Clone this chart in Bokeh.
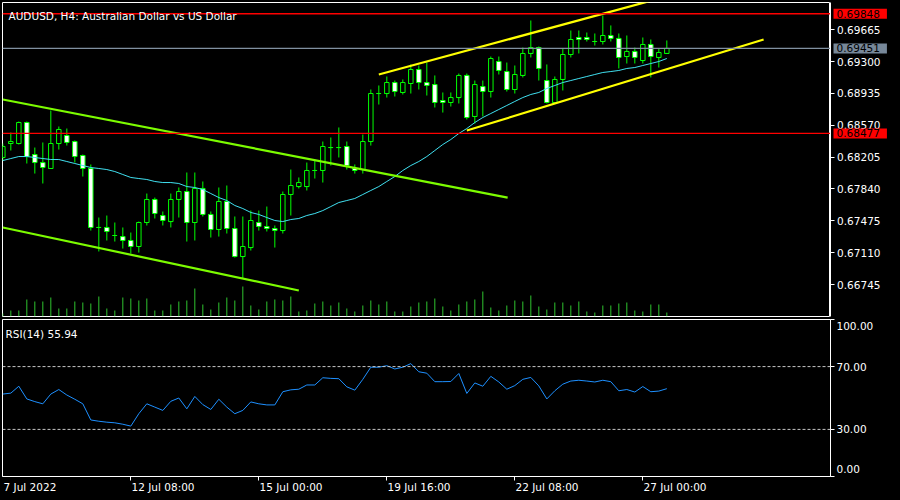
from bokeh.plotting import figure
from bokeh.layouts import column, row
from bokeh.models import Range1d, FixedTicker, Span, Label, ColumnDataSource, PrintfTickFormatter
from bokeh.embed import file_html
from bokeh.resources import INLINE

# ---------------- data (AUDUSD H4) ----------------
bar_index = list(range(84))
opens = [0.68201, 0.68361, 0.68361, 0.68602, 0.68235, 0.68143, 0.68075, 0.68361, 0.68453, 0.68384,
         0.68224, 0.68075, 0.67399, 0.67399, 0.67307, 0.67295, 0.67250, 0.67181, 0.67456, 0.67720,
         0.67536, 0.67467, 0.67720, 0.67811, 0.67456, 0.67846, 0.67548, 0.67376, 0.67697, 0.67387,
         0.67066, 0.67169, 0.67456, 0.67410, 0.67387, 0.67364, 0.67777, 0.67868, 0.67868, 0.68052,
         0.68052, 0.68315, 0.68315, 0.68327, 0.68075, 0.68063, 0.68384, 0.68934, 0.68934, 0.69060,
         0.68946, 0.69049, 0.69209, 0.69060, 0.69037, 0.68854, 0.68831, 0.68888, 0.69141, 0.68671,
         0.69014, 0.68957, 0.69301, 0.69186, 0.68980, 0.69141, 0.69393, 0.69461, 0.69083, 0.68831,
         0.69095, 0.69381, 0.69576, 0.69576, 0.69530, 0.69530, 0.69599, 0.69565, 0.69358, 0.69416,
         0.69312, 0.69496, 0.69347, 0.69393]
highs = [0.68361, 0.68487, 0.68613, 0.68613, 0.68315, 0.68373, 0.68739, 0.68556, 0.68533, 0.68396,
         0.68235, 0.68121, 0.67513, 0.67536, 0.67456, 0.67399, 0.67341, 0.67467, 0.67788, 0.67742,
         0.67582, 0.67788, 0.67857, 0.68029, 0.68029, 0.67926, 0.67582, 0.67857, 0.67880, 0.67525,
         0.67525, 0.67593, 0.67593, 0.67639, 0.67422, 0.67811, 0.68063, 0.67972, 0.68143, 0.68178,
         0.68384, 0.68430, 0.68545, 0.68384, 0.68121, 0.68464, 0.68980, 0.69026, 0.69129, 0.69083,
         0.69095, 0.69267, 0.69255, 0.69289, 0.69141, 0.68946, 0.68946, 0.69163, 0.69163, 0.69083,
         0.69083, 0.69358, 0.69358, 0.69289, 0.69255, 0.69461, 0.69771, 0.69473, 0.69267, 0.69129,
         0.69450, 0.69656, 0.69656, 0.69633, 0.69622, 0.69828, 0.69714, 0.69622, 0.69599, 0.69461,
         0.69576, 0.69553, 0.69450, 0.69542]
lows = [0.68166, 0.68281, 0.68350, 0.68132, 0.68017, 0.67903, 0.68075, 0.68292, 0.68338, 0.68143,
        0.67983, 0.67364, 0.67124, 0.67250, 0.67238, 0.67158, 0.67101, 0.67112, 0.67422, 0.67502,
        0.67422, 0.67399, 0.67513, 0.67238, 0.67250, 0.67525, 0.67284, 0.67295, 0.67330, 0.67055,
        0.66814, 0.67135, 0.67364, 0.67353, 0.67169, 0.67330, 0.67536, 0.67846, 0.67823, 0.67960,
        0.67914, 0.68109, 0.68201, 0.68063, 0.68017, 0.68017, 0.68338, 0.68808, 0.68888, 0.68900,
        0.68923, 0.68934, 0.68980, 0.68911, 0.68774, 0.68716, 0.68785, 0.68820, 0.68636, 0.68590,
        0.68671, 0.68888, 0.69152, 0.68957, 0.68934, 0.69118, 0.69347, 0.69083, 0.68820, 0.68820,
        0.68969, 0.69347, 0.69393, 0.69530, 0.69484, 0.69496, 0.69530, 0.69221, 0.69278, 0.69278,
        0.69278, 0.69118, 0.69232, 0.69393]
closes = [0.68327, 0.68384, 0.68602, 0.68212, 0.68143, 0.68086, 0.68361, 0.68522, 0.68373, 0.68212,
          0.68075, 0.67399, 0.67399, 0.67353, 0.67307, 0.67250, 0.67181, 0.67456, 0.67720, 0.67559,
          0.67479, 0.67720, 0.67811, 0.67456, 0.67846, 0.67548, 0.67376, 0.67697, 0.67387, 0.67066,
          0.67181, 0.67479, 0.67410, 0.67387, 0.67364, 0.67777, 0.67880, 0.67914, 0.68052, 0.68052,
          0.68327, 0.68315, 0.68315, 0.68109, 0.68052, 0.68384, 0.68934, 0.68934, 0.69060, 0.68957,
          0.69060, 0.69209, 0.69060, 0.69026, 0.68831, 0.68831, 0.68888, 0.69141, 0.68659, 0.69037,
          0.68957, 0.69335, 0.69198, 0.68980, 0.69152, 0.69393, 0.69461, 0.69221, 0.68831, 0.69095,
          0.69381, 0.69553, 0.69553, 0.69553, 0.69530, 0.69599, 0.69565, 0.69347, 0.69416, 0.69347,
          0.69496, 0.69358, 0.69404, 0.69451]
tick_volume = [600, 1200, 1200, 3400, 3000, 3000, 3800, 1600, 1600, 3000,
               2800, 2600, 4000, 1600, 1200, 3800, 3600, 3200, 3600, 1200,
               1200, 2400, 3000, 3200, 5600, 2400, 1400, 2800, 3800, 3200,
               6000, 2200, 1400, 3000, 3400, 3200, 4000, 1000, 1200, 2600,
               3000, 2200, 2800, 1600, 1000, 2200, 3200, 2400, 3000, 1000,
               1000, 2000, 2800, 3000, 3600, 2000, 1200, 2400, 3000, 3400,
               5000, 1800, 1200, 2200, 3200, 3000, 4200, 2000, 1400, 2800,
               2800, 2200, 3000, 1000, 800, 2200, 2200, 2600, 2800, 1200,
               1000, 2400, 2400, 800]
ma_values = [0.68166, 0.68189, 0.68212, 0.68212, 0.68201, 0.68189, 0.68178, 0.68178, 0.68155, 0.68132,
             0.68109, 0.68086, 0.68075, 0.68063, 0.68040, 0.68006, 0.67972, 0.67960, 0.67949, 0.67926,
             0.67914, 0.67914, 0.67903, 0.67868, 0.67857, 0.67834, 0.67788, 0.67742, 0.67708, 0.67651,
             0.67616, 0.67571, 0.67548, 0.67513, 0.67479, 0.67467, 0.67490, 0.67502, 0.67536, 0.67559,
             0.67593, 0.67639, 0.67685, 0.67708, 0.67731, 0.67777, 0.67823, 0.67868, 0.67926, 0.67983,
             0.68052, 0.68109, 0.68155, 0.68212, 0.68281, 0.68350, 0.68407, 0.68476, 0.68533, 0.68602,
             0.68659, 0.68705, 0.68751, 0.68797, 0.68843, 0.68888, 0.68923, 0.68946, 0.68992, 0.69026,
             0.69060, 0.69083, 0.69106, 0.69129, 0.69152, 0.69175, 0.69186, 0.69198, 0.69221, 0.69232,
             0.69255, 0.69278, 0.69301, 0.69335]
rsi_values = [52.5, 53.1, 57.5, 49.4, 47.7, 46.3, 52.5, 55.4, 51.9, 49.2,
              46.3, 36.0, 35.2, 34.6, 34.2, 33.3, 32.1, 40.0, 46.3, 44.2,
              42.1, 47.9, 50.0, 43.1, 51.0, 45.8, 42.7, 49.2, 44.2, 40.0,
              42.1, 47.5, 46.3, 45.6, 45.6, 54.0, 55.2, 55.6, 58.3, 58.3,
              62.9, 62.5, 62.3, 57.1, 55.0, 61.9, 69.6, 69.6, 70.6, 68.5,
              69.6, 71.9, 66.7, 65.8, 60.4, 60.4, 60.5, 65.6, 52.9, 59.6,
              57.5, 63.8, 60.2, 55.6, 57.9, 61.9, 63.1, 57.7, 49.4, 54.6,
              58.8, 60.8, 61.3, 60.8, 60.2, 61.3, 60.4, 54.6, 55.4, 53.8,
              57.3, 54.0, 54.4, 55.94]

# trend lines drawn on the chart (bar index, price)
green_upper_x = [0, 63.1]
green_upper_y = [0.68865, 0.67742]
green_lower_x = [0, 37.0]
green_lower_y = [0.67399, 0.66677]
yellow_upper_x = [47.0, 85.0]
yellow_upper_y = [0.69152, 0.70096]
yellow_lower_x = [58.0, 95.1]
yellow_lower_y = [0.68510, 0.69553]

high_line = 0.69848
low_line = 0.68477
bid_price = 0.69451

price_ticks = [0.66745, 0.67110, 0.67475, 0.67840, 0.68205, 0.68570, 0.68935, 0.69300, 0.69665]
rsi_ticks = [0, 30, 70, 100]
rsi_labels = ["0.00", "30.00", "70.00", "100.00"]
rsi_label_pos = [4.5, 30, 70, 95.9]          # MT draws the edge labels inside the panel
date_positions = [0, 16, 32, 48, 64, 80]
date_labels = ["7 Jul 2022", "12 Jul 08:00", "15 Jul 00:00", "19 Jul 16:00", "22 Jul 08:00", "27 Jul 00:00"]
date_label_centers = [3.39, 20.03, 36.03, 52.03, 68.03, 84.03]   # labels are left-aligned at the tick
title_text = "AUDUSD, H4:  Australian Dollar vs US Dollar"
rsi_title = "RSI(14) 55.94"

# ---------------- styling ----------------
FONT = "DejaVu Sans"
FS = "10.5px"
CANDLE = "#00ff00"
BG = "black"

xr = Range1d(-0.04, 103.46)
yr_main = Range1d(0.66379, 0.69977)

main = figure(width=830, height=318, x_range=xr, y_range=yr_main,
              output_backend="svg", toolbar_location=None, x_axis_type=None, y_axis_type=None,
              background_fill_color=BG, border_fill_color=BG,
              min_border_left=2, min_border_right=0, min_border_top=2, min_border_bottom=2,
              outline_line_color="white", outline_line_width=1)
main.grid.visible = False
main.extra_y_ranges = {"vol": Range1d(0, 62800)}

bull = [c >= o for o, c in zip(opens, closes)]
src = ColumnDataSource(dict(
    x=bar_index, o=opens, h=highs, l=lows, c=closes, v=tick_volume,
    top=[max(o, c) for o, c in zip(opens, closes)],
    bot=[min(o, c) for o, c in zip(opens, closes)],
    fill=["black" if b else "white" for b in bull],
    xl=[i - 0.28 for i in bar_index], xr=[i + 0.28 for i in bar_index],
))

main.segment(x0="x", y0=0, x1="x", y1="v", source=src, y_range_name="vol",
             line_color="#2fc42f", line_width=1)

for loc, col in [(high_line, "#ff0000"), (low_line, "#ff0000"), (bid_price, "#8090a0")]:
    main.add_layout(Span(location=loc, dimension="width", line_color=col, line_width=1.3))

main.segment(x0="x", y0="l", x1="x", y1="h", source=src, line_color=CANDLE, line_width=1)
main.vbar(x="x", width=0.56, top="top", bottom="bot", source=src,
          fill_color="fill", line_color=CANDLE, line_width=1)
main.segment(x0="xl", y0="o", x1="xr", y1="o", source=src, line_color=CANDLE, line_width=1)

main.line(bar_index, ma_values, line_color="#40e0f0", line_width=1)

for xs, ys, col in [(green_upper_x, green_upper_y, "#7cfc00"), (green_lower_x, green_lower_y, "#7cfc00"),
                    (yellow_upper_x, yellow_upper_y, "#ffff00"), (yellow_lower_x, yellow_lower_y, "#ffff00")]:
    main.line(xs, ys, line_color=col, line_width=2.2)

main.add_layout(Label(x=0.71, y=0.69822, text=title_text, text_color="white",
                      text_font=FONT, text_font_size=FS, text_baseline="alphabetic"))

# ---------------- price scale strip (axis + price tags) ----------------
scale = figure(width=70, height=318, x_range=Range1d(0, 70), y_range=yr_main,
               output_backend="svg", toolbar_location=None, x_axis_type=None,
               y_axis_location="left", background_fill_color=BG, border_fill_color=BG,
               min_border_left=0, min_border_right=0, min_border_top=2, min_border_bottom=2,
               outline_line_color=None)
scale.grid.visible = False
ya = scale.yaxis[0]
ya.ticker = FixedTicker(ticks=price_ticks, minor_ticks=[])
ya.formatter = PrintfTickFormatter(format="%.5f")
ya.axis_line_color = "white"
ya.major_tick_line_color = "white"
ya.major_tick_out = 0
ya.major_tick_in = 4
ya.major_label_standoff = -50
ya.major_label_text_color = "white"
ya.major_label_text_font = FONT
ya.major_label_text_font_size = FS


def price_tag(price, bgc):
    lab = Label(x=3, y=price, text=f"{price:.5f}", text_color="black",
                text_font=FONT, text_font_size=FS, text_baseline="middle",
                background_fill_color=bgc, level="overlay", padding=2)
    try:
        lab.padding = dict(left=3, right=7, top=1, bottom=1)
    except Exception:
        pass
    scale.add_layout(lab)


price_tag(high_line, "#ff0000")
price_tag(bid_price, "#778899")
price_tag(low_line, "#ff0000")

# ---------------- RSI panel ----------------
rsi = figure(width=900, height=182, x_range=xr, y_range=Range1d(0, 100),
             output_backend="svg", toolbar_location=None, y_axis_location="right",
             background_fill_color=BG, border_fill_color=BG,
             min_border_left=2, min_border_right=70, min_border_top=1, min_border_bottom=24,
             outline_line_color="white", outline_line_width=1)
rsi.grid.visible = False

ry = rsi.yaxis[0]
ry.ticker = FixedTicker(ticks=rsi_label_pos, minor_ticks=rsi_ticks)
ry.major_label_overrides = {p_: l_ for p_, l_ in zip(rsi_label_pos, rsi_labels)}
ry.axis_line_color = "white"
ry.major_tick_line_color = None
ry.minor_tick_line_color = "white"
ry.major_tick_out = 4
ry.major_tick_in = 0
ry.minor_tick_out = 4
ry.minor_tick_in = 0
ry.major_label_standoff = 2
ry.major_label_text_color = "white"
ry.major_label_text_font = FONT
ry.major_label_text_font_size = FS

rx = rsi.xaxis[0]
rx.ticker = FixedTicker(ticks=date_label_centers, minor_ticks=date_positions[1:])
rx.major_label_overrides = {p_: l_ for p_, l_ in zip(date_label_centers, date_labels)}
rx.axis_line_color = "white"
rx.major_tick_line_color = None
rx.minor_tick_line_color = "white"
rx.major_tick_out = 4
rx.major_tick_in = 0
rx.minor_tick_out = 4
rx.minor_tick_in = 0
rx.major_label_standoff = 0
rx.major_label_text_color = "white"
rx.major_label_text_font = FONT
rx.major_label_text_font_size = FS

for lvl in [70, 30]:
    rsi.add_layout(Span(location=lvl, dimension="width", line_color="#c8c8c8",
                        line_width=1, line_dash="3 2"))

rsi.line(bar_index, rsi_values, line_color="#1e90ff", line_width=1)

rsi.add_layout(Label(x=0.34, y=90.8, text=rsi_title, text_color="white",
                     text_font=FONT, text_font_size=FS, text_baseline="alphabetic"))

p = column(row(main, scale, spacing=0), rsi, spacing=0,
           styles={"position": "absolute", "left": "0px", "top": "0px", "background-color": "black"})

open("out.html", "w").write(file_html(p, INLINE))
